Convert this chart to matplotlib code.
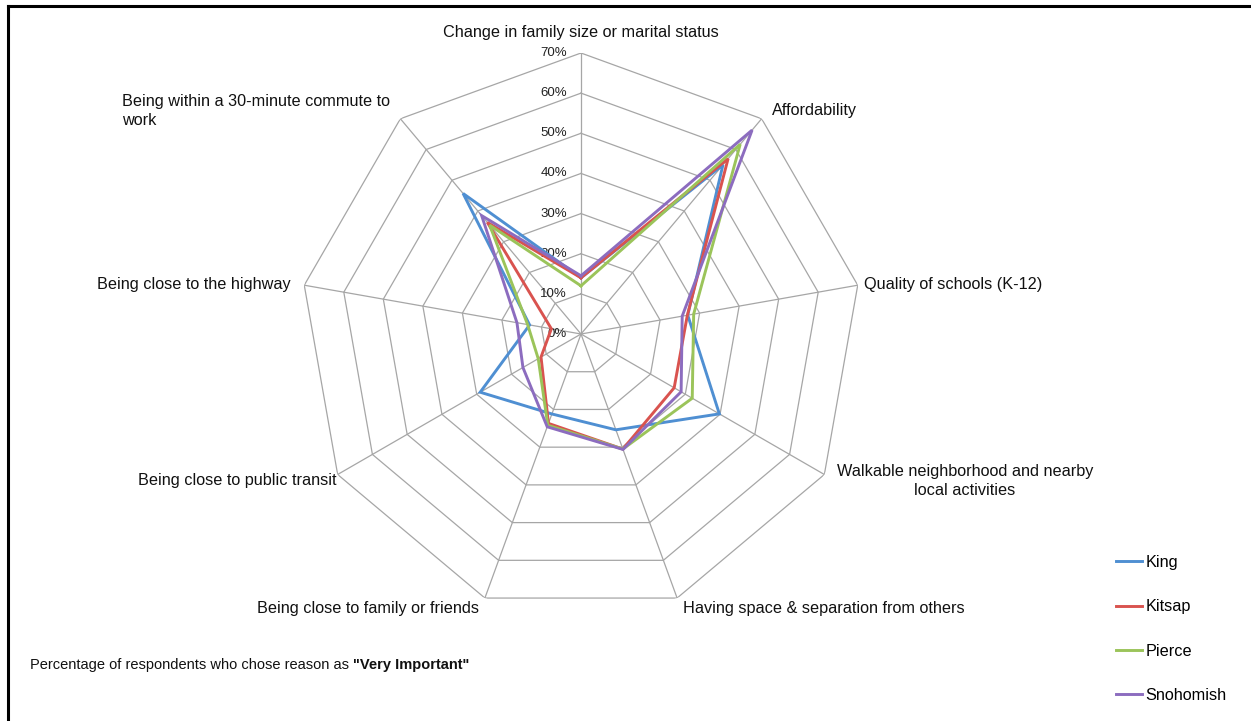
# Radar chart: reasons respondents chose as "Very Important", by county

import numpy as np
import matplotlib as mpl
mpl.use('Agg')
import matplotlib.pyplot as plt
from matplotlib.lines import Line2D

plt.rcParams['font.family'] = ['Liberation Sans', 'DejaVu Sans']

W, H = 1251, 721

categories = [
    "Change in family size or marital status",
    "Affordability",
    "Quality of schools (K-12)",
    "Walkable neighborhood and nearby\nlocal activities",
    "Having space & separation from others",
    "Being close to family or friends",
    "Being close to public transit",
    "Being close to the highway",
    "Being within a 30-minute commute to\nwork",
]

king = [14, 55, 27, 39.8, 25.4, 21.2, 29, 13, 45.7]
kitsap = [14, 57, 26.9, 26.8, 30.5, 23.7, 11.5, 7.5, 36.3]
pierce = [12, 61.7, 28.5, 32, 30.5, 24.2, 12.3, 13.5, 35.4]
snohomish = [14.5, 66.3, 25.6, 28.8, 30.6, 24.6, 16.7, 16.2, 38.5]

series_names = ["King", "Kitsap", "Pierce", "Snohomish"]
series_values = [king, kitsap, pierce, snohomish]
series_colors = ["#4F8FD2", "#D9534F", "#9BC45A", "#8C6CBF"]

ring_ticks = [0, 10, 20, 30, 40, 50, 60, 70]

# label anchor positions in pixels (x, y from top), alignment
label_pos = [
    (581, 32, 'center'),
    (772, 111, 'left'),
    (864, 284, 'left'),
    (965, 481, 'center'),
    (683, 609, 'left'),
    (479, 609, 'right'),
    (336, 480, 'right'),
    (291, 284, 'right'),
    (122, 111, 'left'),
]

LABEL_FS = 11.7


def px(x, y):
    return x / W, 1 - y / H


fig = plt.figure(figsize=(W / 100, H / 100), dpi=100)

# radar axes, centre at (581, 334), 70% radius ~281 px
r_px = 281
cx, cy = 581, 334
ax = fig.add_axes([(cx - r_px) / W, (H - cy - r_px) / H, 2 * r_px / W, 2 * r_px / H],
                  projection='polar')
ax.set_theta_zero_location('N')
ax.set_theta_direction(-1)
ax.set_ylim(0, 70)
ax.grid(False)
ax.spines['polar'].set_visible(False)
ax.set_xticks([])
ax.set_yticks([])
ax.patch.set_alpha(0)

n = len(categories)
angles = np.linspace(0, 2 * np.pi, n, endpoint=False)
closed = np.append(angles, angles[0])

# polygon rings and spokes
for r in ring_ticks[1:]:
    ax.plot(closed, [r] * (n + 1), color='#A6A6A6', lw=0.9, zorder=1)
for a in angles:
    ax.plot([a, a], [0, 70], color='#A6A6A6', lw=0.9, zorder=1)

# ring labels along the top spoke
for r in ring_ticks:
    ax.annotate("{}%".format(r), xy=(0, r), xytext=(-10, 0), textcoords='offset points',
                ha='right', va='center', fontsize=9.5, color='#222222')

# data polygons
handles = []
for name, vals, col in zip(series_names, series_values, series_colors):
    v = vals + vals[:1]
    ln, = ax.plot(closed, v, color=col, lw=2.1, label=name, zorder=3,
                  solid_joinstyle='miter')
    handles.append(ln)

# category labels
for cat, (x, y, ha) in zip(categories, label_pos):
    fx, fy = px(x, y)
    fig.text(fx, fy, cat, ha=ha, va='center', fontsize=LABEL_FS, color='#111111',
             multialignment=ha, linespacing=1.3)

# legend
fig.legend(handles=handles, loc='upper left', bbox_to_anchor=px(1116, 555),
           frameon=False, fontsize=LABEL_FS, handlelength=1.6, handletextpad=0.2,
           labelspacing=1.8, borderaxespad=0, borderpad=0)

# footnote with bold part
t1 = fig.text(*px(30, 665), "Percentage of respondents who chose reason as ",
              ha='left', va='center', fontsize=10.5, color='#111111')
ax.annotate('"Very Important"', xy=(1, 0.5), xycoords=t1, ha='left', va='center',
            fontsize=10.5, fontweight='bold', color='#111111', annotation_clip=False)

# frame lines on top and left edges
fig.add_artist(Line2D([8 / W, 1], [1 - 6 / H, 1 - 6 / H], color='black', lw=2.2))
fig.add_artist(Line2D([8 / W, 8 / W], [0, 1 - 6 / H], color='black', lw=2.2))

fig.savefig("out.png", dpi=100)
